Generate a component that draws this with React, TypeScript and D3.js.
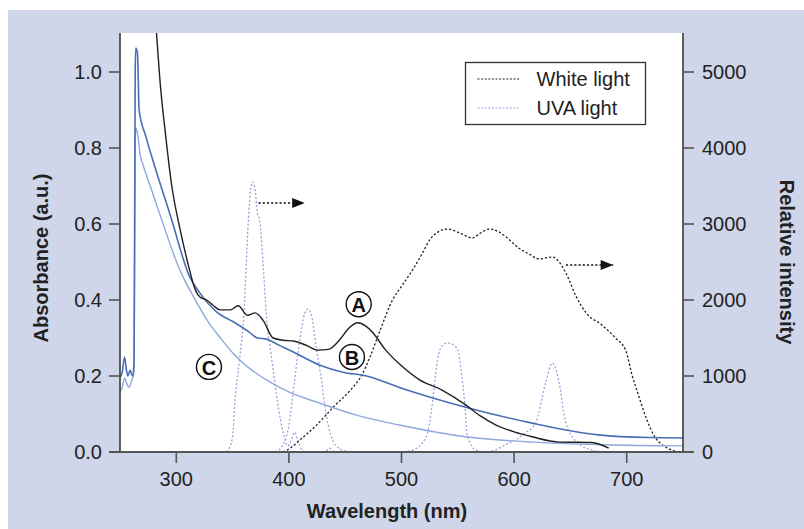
import * as d3 from "d3";

// absorbance spectra [wavelength nm, absorbance a.u.]
const curveA: [number, number][] = [
  [280, 1.2], [282, 1.12], [286, 0.96], [290, 0.847], [296, 0.7], [303.5, 0.584],
  [310, 0.5], [317, 0.426], [321, 0.408], [327, 0.4], [333, 0.385], [339, 0.374],
  [348, 0.374], [355, 0.385], [363, 0.36], [370, 0.366], [377, 0.347], [386, 0.3],
  [395, 0.294], [404, 0.292], [416, 0.28], [426, 0.268], [435, 0.27], [445, 0.295],
  [453, 0.325], [461, 0.34], [468, 0.332], [474, 0.316], [486, 0.268], [498, 0.232],
  [516, 0.19], [536, 0.163], [557, 0.124], [570, 0.095], [584, 0.071], [600, 0.053],
  [616, 0.04], [640, 0.026], [669, 0.025], [684, 0.01],
];
const curveB: [number, number][] = [
  [250, 0.197], [252, 0.21], [254, 0.25], [256, 0.21], [257, 0.2], [259, 0.215],
  [261, 0.2], [262.5, 0.24], [263.5, 1.0], [264, 1.063], [265.5, 1.05], [267, 0.9],
  [273, 0.83], [280, 0.76], [295, 0.62], [312, 0.46], [321, 0.418], [336, 0.368],
  [351, 0.342], [365, 0.315], [372, 0.3], [380, 0.297], [392, 0.28], [404, 0.263],
  [427, 0.229], [448, 0.21], [469, 0.2], [498, 0.17], [557, 0.118], [616, 0.076],
  [675, 0.045], [720, 0.038], [750, 0.037],
];
const curveC: [number, number][] = [
  [250, 0.158], [252, 0.17], [254, 0.195], [256, 0.18], [258, 0.17], [260, 0.185],
  [262.5, 0.21], [263.5, 0.8], [264, 0.853], [266, 0.83], [268, 0.78], [270, 0.76],
  [278, 0.69], [286, 0.62], [303, 0.48], [316, 0.405], [330, 0.335], [340, 0.297],
  [351, 0.258], [365, 0.22], [380, 0.19], [400, 0.158], [427, 0.129], [460, 0.097],
  [498, 0.071], [557, 0.04], [616, 0.026], [680, 0.019], [750, 0.016],
];

// light source emission [wavelength nm, relative intensity]
const whiteLight: [number, number][] = [
  [395, 0], [402, 60], [410, 160], [425, 360], [440, 600], [455, 820], [465, 1020],
  [472, 1250], [481, 1600], [492, 2000], [500, 2180], [510, 2400], [518, 2600],
  [525, 2790], [533, 2900], [541, 2934], [552, 2880], [563, 2816], [570, 2880],
  [578, 2934], [586, 2900], [593, 2829], [604, 2684], [614, 2600], [622, 2540],
  [634, 2566], [646, 2355], [655, 2050], [664, 1829], [678, 1671], [690, 1500],
  [699, 1342], [705, 1000], [711, 724], [718, 420], [725, 197], [733, 80],
  [740, 26], [745, 0],
];
const uvaLight: [number, number][] = [
  [345, 0], [350, 200], [352, 645], [356, 1200], [360, 1800], [364, 3053], [366, 3450],
  [368, 3553], [370, 3450], [372, 3150], [374, 3053], [377, 2500], [380, 1800],
  [385, 1200], [390, 645], [395, 250], [399, 80], [402, 150], [405, 260], [408, 150],
  [412, 20], [416, 0], [432, 0], [436, 50], [440, 0], [530, 0],
];
const peakLight: [number, number][] = [
  [388, 0], [395, 100], [400, 350], [405, 940], [410, 1500], [414, 1820], [417, 1880],
  [420, 1800], [424, 1400], [429, 940], [433, 500], [437, 230], [442, 80], [450, 15],
  [458, 0], [500, 0], [510, 26], [522, 202], [528, 720], [530, 991], [534, 1342],
  [538, 1420], [541, 1434], [545, 1420], [550, 1342], [553.6, 991], [555.7, 720],
  [558.6, 202], [566, 26], [575, 0], [595, 114], [610, 250], [619, 380], [628, 908],
  [634, 1171], [637, 1100], [640, 908], [646, 380], [657, 114], [669, 26], [680, 0],
];

const xTicks = [300, 400, 500, 600, 700];
const leftTicks = [0, 0.2, 0.4, 0.6, 0.8, 1.0];
const rightTicks = [0, 1000, 2000, 3000, 4000, 5000];

// circled curve labels [letter, nm, absorbance]
const curveLabels: [string, number, number][] = [
  ["A", 462, 0.389],
  ["B", 456, 0.25],
  ["C", 329, 0.224],
];
// "read on right axis" arrows [fromNm, toNm, intensity]
const arrows: [number, number, number][] = [
  [373, 414, 3276],
  [646, 688, 2460],
];

const legendItems = [
  { label: "White light", color: "#222222" },
  { label: "UVA light", color: "#ad95d8" },
];

export default function App() {
  const width = 804;
  const height = 529;
  const left = 120;
  const right = 683;
  const top = 33;
  const bottom = 452;
  const font = "'Liberation Sans', Arial, Helvetica, sans-serif";
  const axisColor = "#3a3a3a";

  const xScale = d3.scaleLinear().domain([250, 750]).range([left, right]);
  const yScale = d3.scaleLinear().domain([0, 1]).range([bottom, bottom - 380]);
  const y2Scale = d3.scaleLinear().domain([0, 5000]).range([bottom, bottom - 380]);

  const absLine = d3
    .line<[number, number]>()
    .x((d) => xScale(d[0]))
    .y((d) => yScale(d[1]))
    .curve(d3.curveMonotoneX);
  const intLine = d3
    .line<[number, number]>()
    .x((d) => xScale(d[0]))
    .y((d) => y2Scale(d[1]))
    .curve(d3.curveMonotoneX);

  return (
    <svg
      width={width}
      height={height}
      style={{ position: "absolute", left: 0, top: 0, fontFamily: font }}
    >
      <defs>
        <clipPath id="plot">
          <rect x={left} y={top} width={right - left} height={bottom - top} />
        </clipPath>
        <marker id="head" viewBox="0 0 10 8" refX={10} refY={4} markerWidth={14} markerHeight={10} markerUnits="userSpaceOnUse" orient="auto">
          <path d="M0,0 L10,4 L0,8 Z" fill="#111" />
        </marker>
      </defs>
      <rect x={8} y={10} width={width - 8} height={height - 10} fill="#cfd6e9" />
      <rect x={left} y={top} width={right - left} height={bottom - top} fill="#ffffff" />

      <g clipPath="url(#plot)" fill="none">
        <path d={intLine(uvaLight) ?? ""} stroke="#ad95d8" strokeWidth={1.3} strokeDasharray="2,2" />
        <path d={intLine(peakLight) ?? ""} stroke="#93a7dc" strokeWidth={1.3} strokeDasharray="2,2" />
        <path d={intLine(whiteLight) ?? ""} stroke="#222" strokeWidth={1.3} strokeDasharray="2.2,2" />
        <path d={absLine(curveC) ?? ""} stroke="#8fa8de" strokeWidth={1.4} />
        <path d={absLine(curveB) ?? ""} stroke="#4a6db6" strokeWidth={1.6} />
        <path d={absLine(curveA) ?? ""} stroke="#231f20" strokeWidth={1.4} />
      </g>

      {arrows.map(([a, b, v], i) => (
        <line
          key={i}
          x1={xScale(a)}
          x2={xScale(b)}
          y1={y2Scale(v)}
          y2={y2Scale(v)}
          stroke="#111"
          strokeWidth={1.4}
          strokeDasharray="2.2,2"
          markerEnd="url(#head)"
        />
      ))}

      {curveLabels.map(([t, nm, v]) => (
        <g key={t} transform={`translate(${xScale(nm)}, ${yScale(v)})`}>
          <circle r={12.5} fill="#fff" stroke="#111" strokeWidth={1.4} />
          <text textAnchor="middle" dominantBaseline="central" fontSize={20} fontWeight="bold" fill="#111" y={1}>
            {t}
          </text>
        </g>
      ))}

      <Legend x={465.5} y={62.5} font={font} />

      {/* axes */}
      <line x1={left} x2={left} y1={top} y2={bottom} stroke={axisColor} strokeWidth={1.6} />
      <line x1={right} x2={right} y1={top} y2={bottom} stroke={axisColor} strokeWidth={1.6} />
      <line x1={left - 11} x2={right + 11} y1={bottom} y2={bottom} stroke="#555" strokeWidth={2.2} />
      {xTicks.map((t) => (
        <g key={t} transform={`translate(${xScale(t)}, ${bottom})`}>
          <line y1={0} y2={11} stroke="#555" strokeWidth={1.6} />
          <text y={27} textAnchor="middle" dominantBaseline="central" fontSize={20} fill="#222">
            {t}
          </text>
        </g>
      ))}
      {leftTicks.map((t) => (
        <g key={t} transform={`translate(${left}, ${yScale(t)})`}>
          <line x1={-11} x2={0} stroke="#555" strokeWidth={1.6} />
          <text x={-18} textAnchor="end" dominantBaseline="central" fontSize={20} fill="#222">
            {d3.format(".1f")(t)}
          </text>
        </g>
      ))}
      {rightTicks.map((t) => (
        <g key={t} transform={`translate(${right}, ${y2Scale(t)})`}>
          <line x1={0} x2={11} stroke="#555" strokeWidth={1.6} />
          <text x={19} textAnchor="start" dominantBaseline="central" fontSize={20} fill="#222">
            {t}
          </text>
        </g>
      ))}

      <text x={387} y={511} textAnchor="middle" dominantBaseline="central" fontSize={20} fontWeight="bold" fill="#222">
        Wavelength (nm)
      </text>
      <text
        transform="translate(41, 258) rotate(-90)"
        textAnchor="middle"
        dominantBaseline="central"
        fontSize={20}
        fontWeight="bold"
        fill="#222"
      >
        Absorbance (a.u.)
      </text>
      <text
        transform="translate(787, 262) rotate(90)"
        textAnchor="middle"
        dominantBaseline="central"
        fontSize={20}
        fontWeight="bold"
        fill="#222"
      >
        Relative intensity
      </text>
    </svg>
  );
}

function Legend(props: { x: number; y: number; font: string }) {
  const { x, y } = props;
  return (
    <g transform={`translate(${x}, ${y})`}>
      <rect width={180} height={62} fill="#fff" stroke="#333" strokeWidth={1.3} />
      {legendItems.map((item, i) => (
        <g key={item.label} transform={`translate(0, ${16.5 + i * 29})`}>
          <line x1={12} x2={55} stroke={item.color} strokeWidth={1.2} strokeDasharray="2,1.6" />
          <text x={71} dominantBaseline="central" fontSize={20} fill="#222">
            {item.label}
          </text>
        </g>
      ))}
    </g>
  );
}
